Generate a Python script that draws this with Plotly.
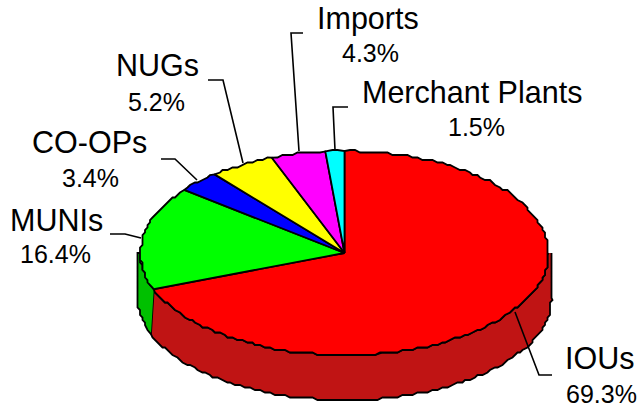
import numpy as np
import plotly.graph_objects as go

categories = ["IOUs", "MUNIs", "CO-OPs", "NUGs", "Imports", "Merchant Plants"]
shares = [69.3, 16.4, 3.4, 5.2, 4.3, 1.5]
colors = ["#ff0000", "#00ff00", "#0000ff", "#ffff00", "#ff00ff", "#00ffff"]
wall_colors = ["#c01414", "#00c000", "#0000c0", "#c0c000", "#c000c0", "#00c0c0"]

CX, CY, RX, RY = 344.5, 253.0, 204.0, 102.0
WALL_CY, WALL_RX = 298.0, 207.0
GRID = 2.5
EDGE = dict(color="#000000", width=1.8)


def rim(a, b, cx, cy, rx, ry):
    n = max(2, int(abs(b - a) / 1.5) + 1)
    t = np.radians(np.linspace(a, b, n))
    x = cx + rx * np.sin(t)
    y = cy - ry * np.cos(t)
    x[1:-1] = np.round(x[1:-1] / GRID) * GRID
    y[1:-1] = np.round(y[1:-1] / GRID) * GRID
    return x.tolist(), y.tolist()


fig = go.Figure()
ends = np.cumsum(shares) / np.sum(shares) * 360
starts = np.concatenate([[0], ends[:-1]])

# side wall (only the front half of the disc shows)
for a, b, wc in zip(starts, ends, wall_colors):
    lo, hi = max(a, 90), min(b, 270)
    if hi <= lo:
        continue
    x1, y1 = rim(lo, hi, CX, CY, RX, RY)
    x2, y2 = rim(hi, lo, CX, WALL_CY, WALL_RX, RY)
    if hi == 270:
        x1.append(x2[0]); y1.append(CY)
    if lo == 90:
        x2.append(x2[-1]); y2.append(CY)
    fig.add_trace(go.Scatter(x=x1 + x2, y=y1 + y2, mode="lines", fill="toself",
                             fillcolor=wc, line=EDGE, hoverinfo="skip"))

# top face
for a, b, c in zip(starts, ends, colors):
    x, y = rim(a, b, CX, CY, RX, RY)
    fig.add_trace(go.Scatter(x=[CX] + x + [CX], y=[CY] + y + [CY], mode="lines", fill="toself",
                             fillcolor=c, line=EDGE, hoverinfo="skip"))

# leader lines
leaders = [
    [(552, 375), (539, 375), (515, 312)],
    [(110, 234), (125, 234), (141, 238)],
    [(161, 159), (175, 159), (197, 180)],
    [(208, 80), (223, 80), (243, 163)],
    [(303, 33), (291, 33), (299, 151)],
    [(348, 107), (333, 107), (335, 150)],
]
for pts in leaders:
    fig.add_shape(type="path", xref="x", yref="y", layer="above",
                  path="M " + " L ".join(f"{x},{y}" for x, y in pts),
                  line=dict(color="#000000", width=1.6))

name_pos = [(599.5, 358), (56.5, 220), (89, 142), (157.5, 65), (368, 18), (472, 92)]
pct_pos = [(601, 394), (55.5, 254), (90, 178), (156, 102), (370, 53), (476, 126.5)]
for name, val, np_, pp in zip(categories, shares, name_pos, pct_pos):
    fig.add_annotation(x=np_[0], y=np_[1], text=name, showarrow=False, xref="x", yref="y",
                       font=dict(family="Liberation Sans", size=30.5, color="#000000"))
    fig.add_annotation(x=pp[0], y=pp[1], text=f"{val}%", showarrow=False, xref="x", yref="y",
                       font=dict(family="Liberation Sans", size=25, color="#000000"))

fig.update_layout(width=639, height=408, margin=dict(l=0, r=0, t=0, b=0), showlegend=False,
                  paper_bgcolor="#ffffff", plot_bgcolor="#ffffff",
                  xaxis=dict(range=[0, 639], visible=False, fixedrange=True),
                  yaxis=dict(range=[408, 0], visible=False, fixedrange=True))
fig.write_html("out.html", config=dict(displayModeBar=False),
               post_script="document.body.style.margin='0';document.body.style.overflow='hidden';")
